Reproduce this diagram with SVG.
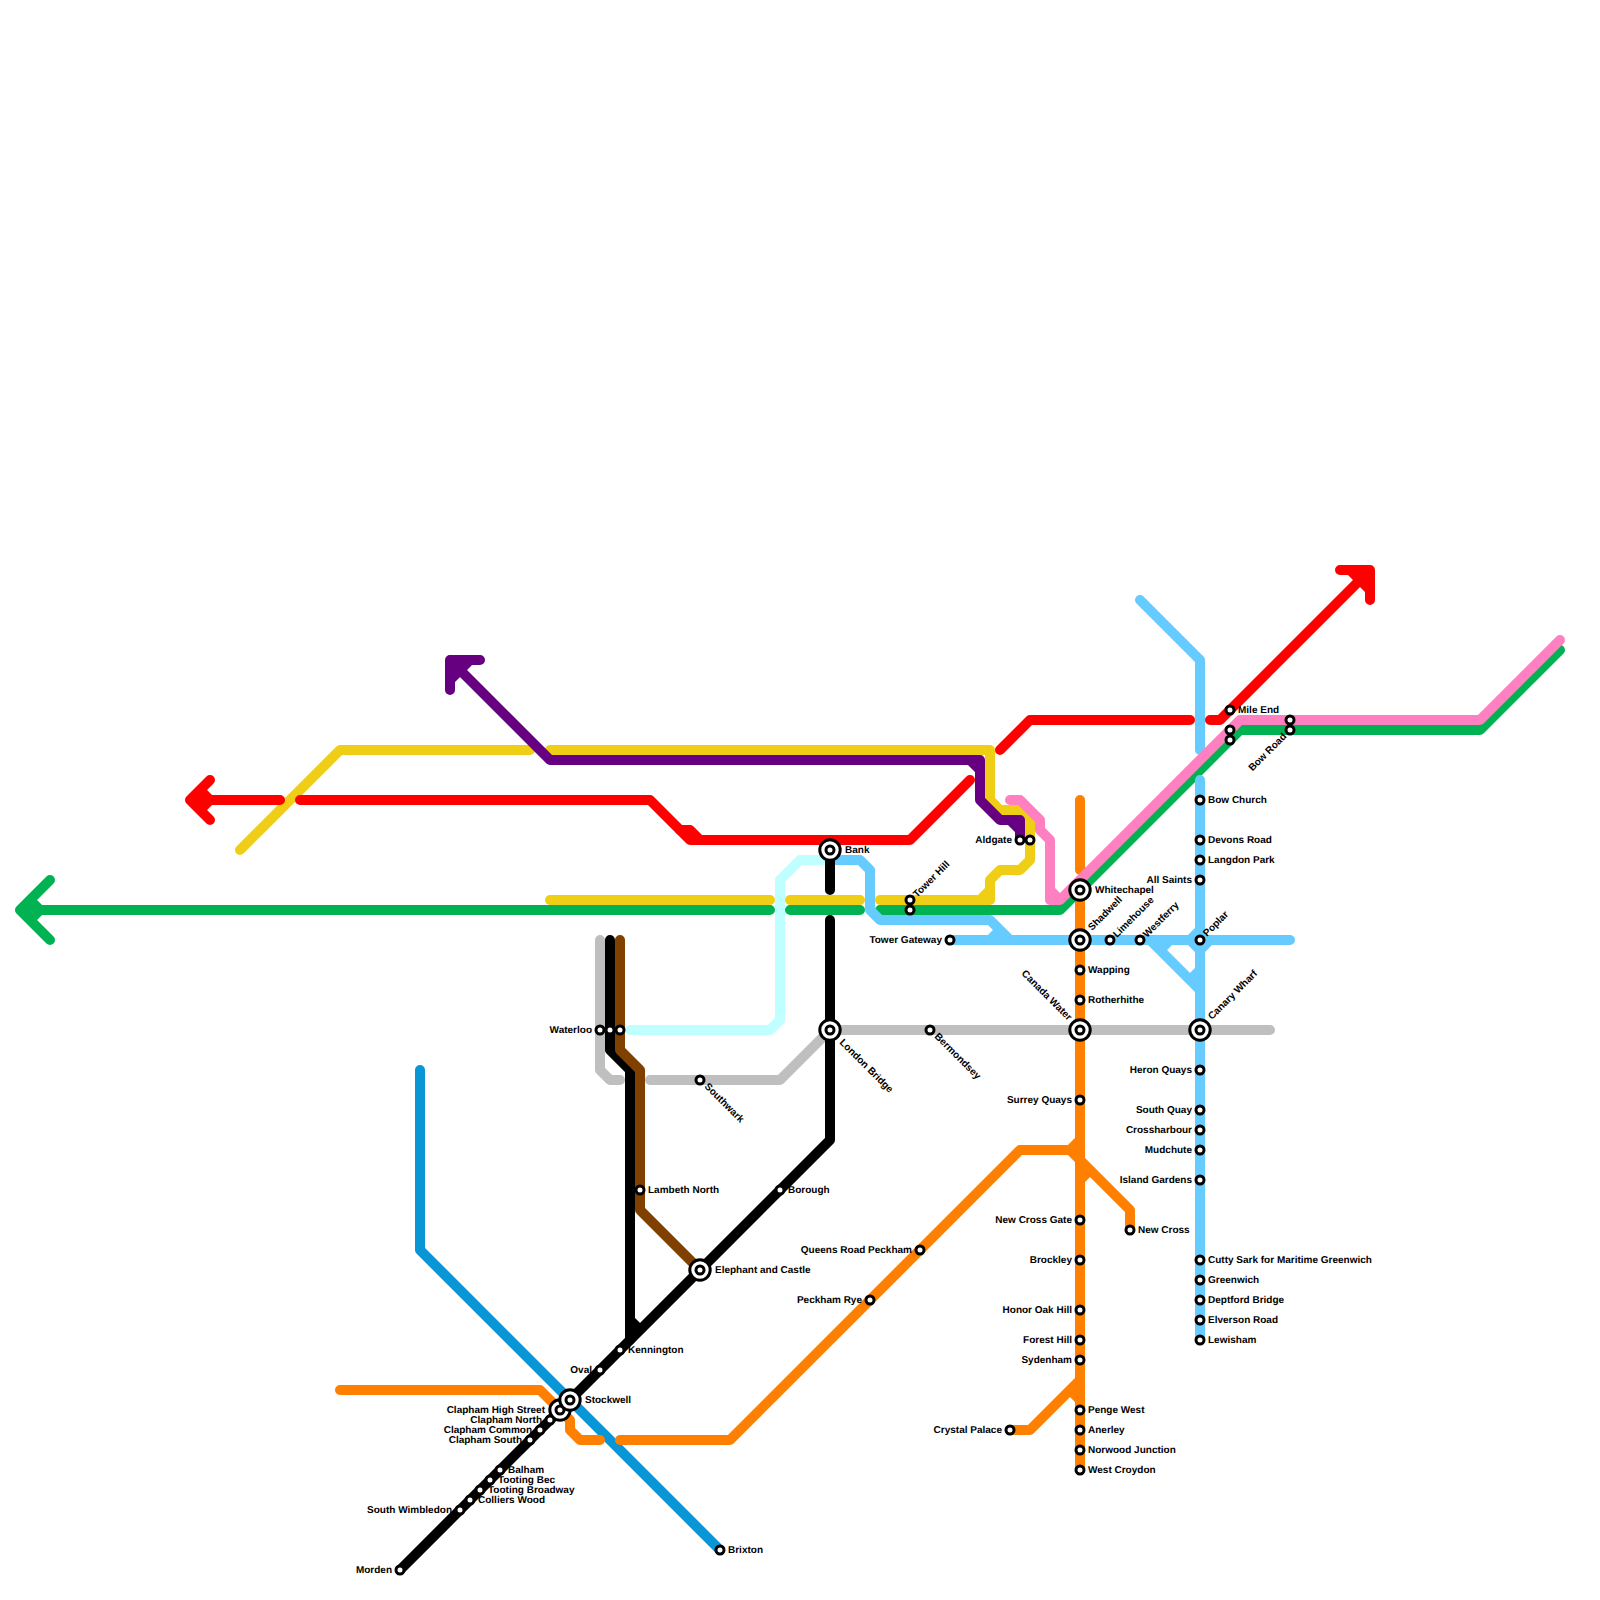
<svg xmlns="http://www.w3.org/2000/svg" width="1600" height="1600" viewBox="0 0 1600 1600">
<style>
.l{fill:none;stroke-width:10;stroke-linecap:round;stroke-linejoin:round}
.f{fill:none;stroke-width:10;stroke-linecap:butt}
.blue{stroke:#0896d7}.or{stroke:#ff8000}.gr{stroke:#bfbfbf}.grn{stroke:#00b251}.yl{stroke:#f0ce15}.pu{stroke:#660080}.rd{stroke:#ff0000}.cy{stroke:#bfffff}.lb{stroke:#66ccff}.bk{stroke:#000}.br{stroke:#804000}.pk{stroke:#ff80c0}
.s{fill:#fff;stroke:#000;stroke-width:3}
text{font-family:"Liberation Sans",Arial,sans-serif;font-size:10px;font-weight:700;fill:#000;text-rendering:geometricPrecision}
text:not([transform]){transform:translateY(-.5px)}
.e{text-anchor:end}
</style>
<defs>
<g id="st"><circle class="s" r="4"/></g>
<g id="big"><circle class="s" r="10.2"/><circle class="s" r="4"/></g>
</defs>
<g id="connectors">
<path class="l blue" d="M420 1070V1250L720 1550"/>
<path class="l or" d="M1080 800V870M1080 890V1470"/>
<path class="l or" d="M340 1390H540L570 1420V1430L580 1440H600"/>
<path class="l or" d="M620 1440H730L1020 1150H1070L1080 1160L1130 1210V1230"/>
<path class="l or" d="M1010 1430H1030L1080 1380"/>
<path class="f or" d="M1070 1150L1080 1140M1080 1180L1090 1170M1070 1390L1080 1400"/>
<path class="l gr" d="M600 940V1070L610 1080H620"/>
<path class="l gr" d="M650 1080H780L830 1030H1270"/>
<path class="l grn" d="M50 880L20 910L50 940M20 910H770M790 910H860M880 910H1060L1240 730H1480L1560 650"/>
<path class="f grn" d="M30 900L40 910L30 920"/>
<path class="l yl" d="M240 850L340 750H530M550 750H990V800L1000 810H1020L1030 820V860L1020 870H1000L990 880V900H880M550 900H770M790 900H860"/>
<path class="f yl" d="M980 900L990 890"/>
<path class="l pu" d="M480 660H450V690M450 660L550 760H980V800L1000 820H1020V840"/>
<path class="f pu" d="M450 680L470 660M970 760L980 770M1010 820L1020 830"/>
<path class="l rd" d="M210 780L190 800L210 820M190 800H280M300 800H650L690 840H910L970 780"/>
<path class="f rd" d="M200 790L210 800L200 810"/>
<path class="l rd" d="M680 830H690L700 840"/>
<path class="l rd" d="M1000 750L1030 720H1190M1210 720H1220L1370 570M1340 570H1370V600"/>
<path class="f rd" d="M1350 570L1370 590"/>
<path class="l cy" d="M630 1030H770L780 1020V880L800 860H830"/>
<path class="l lb" d="M830 860H860L870 870V910L880 920H990L1010 940M950 940H1290M1140 600L1200 660V750M1200 780V1340M1150 940L1200 990"/>
<path class="f lb" d="M990 940L1000 930M1190 940L1200 930M1190 940L1200 950M1210 940L1200 950M1160 950L1170 940M1200 970L1190 980"/>
<path class="l bk" d="M400 1570L830 1140V920M830 850V890"/>
<path class="l bk" d="M610 940V1050L630 1070V1340"/>
<path class="f bk" d="M630 1320L640 1330"/>
<path class="l br" d="M620 940V1050L640 1070V1210L700 1270"/>
<path class="l pk" d="M1010 800H1020L1040 820V830L1050 840V900H1060L1240 720H1480L1560 640"/>
<path class="f pk" d="M1050 890L1060 900"/>
</g>
<g id="clapham-high-street"><use href="#big" x="560" y="1410"/><text class="e" x="545" y="1413">Clapham High Street</text></g>
<g id="stockwell"><use href="#big" x="570" y="1400"/><text x="585" y="1403">Stockwell</text></g>
<g id="morden"><use href="#st" x="400" y="1570"/><text class="e" x="392" y="1573">Morden</text></g>
<g id="south-wimbledon"><use href="#st" x="460" y="1510"/><text class="e" x="452" y="1513">South Wimbledon</text></g>
<g id="colliers-wood"><text x="478" y="1503">Colliers Wood</text><use href="#st" x="470" y="1500"/></g>
<g id="tooting-broadway"><text x="488" y="1493">Tooting Broadway</text><use href="#st" x="480" y="1490"/></g>
<g id="tooting-bec"><text x="498" y="1483">Tooting Bec</text><use href="#st" x="490" y="1480"/></g>
<g id="balham"><text x="508" y="1473">Balham</text><use href="#st" x="500" y="1470"/></g>
<g id="clapham-south"><use href="#st" x="530" y="1440"/><text class="e" x="522" y="1443">Clapham South</text></g>
<g id="clapham-common"><use href="#st" x="540" y="1430"/><text class="e" x="532" y="1433">Clapham Common</text></g>
<g id="clapham-north"><use href="#st" x="550" y="1420"/><text class="e" x="542" y="1423">Clapham North</text></g>
<g id="oval"><use href="#st" x="600" y="1370"/><text class="e" x="592" y="1373">Oval</text></g>
<g id="kennington"><use href="#st" x="620" y="1350"/><text x="628" y="1353">Kennington</text></g>
<g id="brixton"><use href="#st" x="720" y="1550"/><text x="728" y="1553">Brixton</text></g>
<g id="elephant-and-castle"><use href="#big" x="700" y="1270"/><text x="715" y="1273">Elephant and Castle</text></g>
<g id="borough"><use href="#st" x="780" y="1190"/><text x="788" y="1193">Borough</text></g>
<g id="lambeth-north"><use href="#st" x="640" y="1190"/><text x="648" y="1193">Lambeth North</text></g>
<g id="waterloo"><use href="#st" x="600" y="1030"/><use href="#st" x="610" y="1030"/><use href="#st" x="620" y="1030"/><text class="e" x="592" y="1033">Waterloo</text></g>
<g id="southwark"><use href="#st" x="700" y="1080"/><text transform="translate(704 1087) rotate(45)">Southwark</text></g>
<g id="london-bridge"><use href="#big" x="830" y="1030"/><text transform="translate(839 1043) rotate(45)">London Bridge</text></g>
<g id="bank"><use href="#big" x="830" y="850"/><text x="845" y="853">Bank</text></g>
<g id="bermondsey"><use href="#st" x="930" y="1030"/><text transform="translate(934 1037) rotate(45)">Bermondsey</text></g>
<g id="tower-hill"><use href="#st" x="910" y="900"/><use href="#st" x="910" y="910"/><text transform="translate(917 898) rotate(-45)">Tower Hill</text></g>
<g id="tower-gateway"><use href="#st" x="950" y="940"/><text class="e" x="942" y="943">Tower Gateway</text></g>
<g id="aldgate"><use href="#st" x="1020" y="840"/><use href="#st" x="1030" y="840"/><text class="e" x="1012" y="843">Aldgate</text></g>
<g id="whitechapel"><use href="#big" x="1080" y="890"/><text x="1095" y="893">Whitechapel</text></g>
<g id="shadwell"><use href="#big" x="1080" y="940"/><text transform="translate(1092 931) rotate(-45)">Shadwell</text></g>
<g id="limehouse"><use href="#st" x="1110" y="940"/><text transform="translate(1117 938) rotate(-45)">Limehouse</text></g>
<g id="westferry"><use href="#st" x="1140" y="940"/><text transform="translate(1147 938) rotate(-45)">Westferry</text></g>
<g id="wapping"><use href="#st" x="1080" y="970"/><text x="1088" y="973">Wapping</text></g>
<g id="rotherhithe"><use href="#st" x="1080" y="1000"/><text x="1088" y="1003">Rotherhithe</text></g>
<g id="canada-water"><use href="#big" x="1080" y="1030"/><text class="e" transform="translate(1068 1021) rotate(45)">Canada Water</text></g>
<g id="surrey-quays"><use href="#st" x="1080" y="1100"/><text class="e" x="1072" y="1103">Surrey Quays</text></g>
<g id="new-cross-gate"><use href="#st" x="1080" y="1220"/><text class="e" x="1072" y="1223">New Cross Gate</text></g>
<g id="brockley"><use href="#st" x="1080" y="1260"/><text class="e" x="1072" y="1263">Brockley</text></g>
<g id="honor-oak-hill"><use href="#st" x="1080" y="1310"/><text class="e" x="1072" y="1313">Honor Oak Hill</text></g>
<g id="forest-hill"><use href="#st" x="1080" y="1340"/><text class="e" x="1072" y="1343">Forest Hill</text></g>
<g id="sydenham"><use href="#st" x="1080" y="1360"/><text class="e" x="1072" y="1363">Sydenham</text></g>
<g id="penge-west"><use href="#st" x="1080" y="1410"/><text x="1088" y="1413">Penge West</text></g>
<g id="anerley"><use href="#st" x="1080" y="1430"/><text x="1088" y="1433">Anerley</text></g>
<g id="norwood-junction"><use href="#st" x="1080" y="1450"/><text x="1088" y="1453">Norwood Junction</text></g>
<g id="west-croydon"><use href="#st" x="1080" y="1470"/><text x="1088" y="1473">West Croydon</text></g>
<g id="new-cross"><use href="#st" x="1130" y="1230"/><text x="1138" y="1233">New Cross</text></g>
<g id="crystal-palace"><use href="#st" x="1010" y="1430"/><text class="e" x="1002" y="1433">Crystal Palace</text></g>
<g id="queens-road-peckham"><use href="#st" x="920" y="1250"/><text class="e" x="912" y="1253">Queens Road Peckham</text></g>
<g id="peckham-rye"><use href="#st" x="870" y="1300"/><text class="e" x="862" y="1303">Peckham Rye</text></g>
<g id="mile-end"><use href="#st" x="1230" y="710"/><text x="1238" y="713">Mile End</text></g>
<g id="bow-road"><use href="#st" x="1230" y="730"/><use href="#st" x="1230" y="740"/><use href="#st" x="1290" y="720"/><use href="#st" x="1290" y="730"/><text class="e" transform="translate(1287 737) rotate(-45)">Bow Road</text></g>
<g id="bow-church"><use href="#st" x="1200" y="800"/><text x="1208" y="803">Bow Church</text></g>
<g id="devons-road"><use href="#st" x="1200" y="840"/><text x="1208" y="843">Devons Road</text></g>
<g id="langdon-park"><use href="#st" x="1200" y="860"/><text x="1208" y="863">Langdon Park</text></g>
<g id="all-saints"><use href="#st" x="1200" y="880"/><text class="e" x="1192" y="883">All Saints</text></g>
<g id="poplar"><use href="#st" x="1200" y="940"/><text transform="translate(1207 937) rotate(-45)">Poplar</text></g>
<g id="canary-wharf"><use href="#big" x="1200" y="1030"/><text transform="translate(1212 1020) rotate(-45)">Canary Wharf</text></g>
<g id="heron-quays"><use href="#st" x="1200" y="1070"/><text class="e" x="1192" y="1073">Heron Quays</text></g>
<g id="south-quay"><use href="#st" x="1200" y="1110"/><text class="e" x="1192" y="1113">South Quay</text></g>
<g id="crossharbour"><use href="#st" x="1200" y="1130"/><text class="e" x="1192" y="1133">Crossharbour</text></g>
<g id="mudchute"><use href="#st" x="1200" y="1150"/><text class="e" x="1192" y="1153">Mudchute</text></g>
<g id="island-gardens"><use href="#st" x="1200" y="1180"/><text class="e" x="1192" y="1183">Island Gardens</text></g>
<g id="cutty-sark"><use href="#st" x="1200" y="1260"/><text x="1208" y="1263">Cutty Sark for Maritime Greenwich</text></g>
<g id="greenwich"><use href="#st" x="1200" y="1280"/><text x="1208" y="1283">Greenwich</text></g>
<g id="deptford-bridge"><use href="#st" x="1200" y="1300"/><text x="1208" y="1303">Deptford Bridge</text></g>
<g id="elverson-road"><use href="#st" x="1200" y="1320"/><text x="1208" y="1323">Elverson Road</text></g>
<g id="lewisham"><use href="#st" x="1200" y="1340"/><text x="1208" y="1343">Lewisham</text></g>
</svg>
